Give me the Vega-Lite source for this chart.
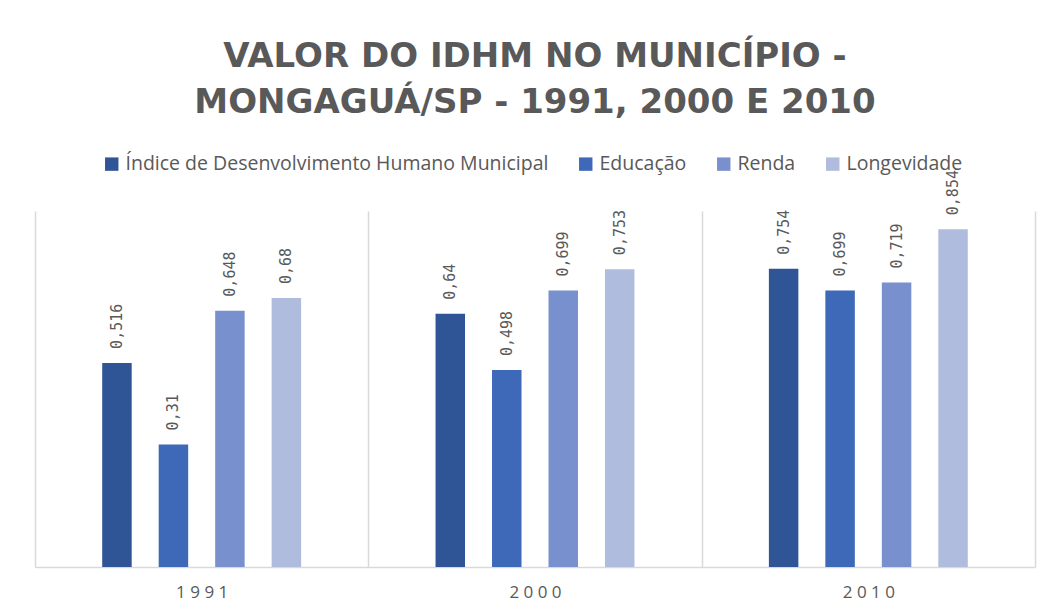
{
  "$schema": "https://vega.github.io/schema/vega-lite/v6.json",
  "autosize": {"type": "none"},
  "width": 1000,
  "height": 356,
  "padding": {"left": 35, "top": 211, "right": 13, "bottom": 47},
  "background": "white",
  "title": {
    "text": ["VALOR DO IDHM NO MUNICÍPIO -", "MONGAGUÁ/SP  - 1991, 2000 E 2010"],
    "anchor": "middle",
    "frame": "group",
    "font": "DejaVu Sans",
    "fontSize": 34,
    "fontWeight": "bold",
    "color": "#595959",
    "lineHeight": 46,
    "offset": 34
  },
  "data": {
    "values": [
      {"ano": "1991", "serie": "Índice de Desenvolvimento Humano Municipal", "valor": 0.516, "rotulo": "0,516"},
      {"ano": "1991", "serie": "Educação", "valor": 0.31, "rotulo": "0,31"},
      {"ano": "1991", "serie": "Renda", "valor": 0.648, "rotulo": "0,648"},
      {"ano": "1991", "serie": "Longevidade", "valor": 0.68, "rotulo": "0,68"},
      {"ano": "2000", "serie": "Índice de Desenvolvimento Humano Municipal", "valor": 0.64, "rotulo": "0,64"},
      {"ano": "2000", "serie": "Educação", "valor": 0.498, "rotulo": "0,498"},
      {"ano": "2000", "serie": "Renda", "valor": 0.699, "rotulo": "0,699"},
      {"ano": "2000", "serie": "Longevidade", "valor": 0.753, "rotulo": "0,753"},
      {"ano": "2010", "serie": "Índice de Desenvolvimento Humano Municipal", "valor": 0.754, "rotulo": "0,754"},
      {"ano": "2010", "serie": "Educação", "valor": 0.699, "rotulo": "0,699"},
      {"ano": "2010", "serie": "Renda", "valor": 0.719, "rotulo": "0,719"},
      {"ano": "2010", "serie": "Longevidade", "valor": 0.854, "rotulo": "0,854"}
    ]
  },
  "encoding": {
    "x": {
      "field": "ano",
      "type": "nominal",
      "title": null,
      "scale": {"paddingInner": 0, "paddingOuter": 0},
      "axis": {
        "tickBand": "extent",
        "grid": true,
        "gridColor": "#d9d9d9",
        "gridWidth": 1.5,
        "ticks": false,
        "domainColor": "#d9d9d9",
        "domainWidth": 1.5,
        "labelAngle": 0,
        "labelFont": "Open Sans",
        "labelFontSize": 17,
        "labelColor": "#595959",
        "labelPadding": 17,
        "labelExpr": "join(split(datum.label, ''), ' ')"
      }
    },
    "xOffset": {
      "field": "serie",
      "type": "nominal",
      "scale": {
        "domain": ["_ini", "Índice de Desenvolvimento Humano Municipal", "Educação", "Renda", "Longevidade", "_fim"],
        "paddingInner": 0.478,
        "paddingOuter": 0.19
      }
    },
    "y": {
      "field": "valor",
      "type": "quantitative",
      "scale": {"domain": [0, 0.9], "nice": false},
      "axis": null
    }
  },
  "layer": [
    {
      "mark": {"type": "bar"},
      "encoding": {
        "color": {
          "field": "serie",
          "type": "nominal",
          "scale": {
            "domain": ["Índice de Desenvolvimento Humano Municipal", "Educação", "Renda", "Longevidade"],
            "range": ["#2f5597", "#3e69b8", "#7890cd", "#b0bcdd"]
          },
          "legend": {
            "title": null,
            "orient": "none",
            "direction": "horizontal",
            "legendX": 67,
            "legendY": -57,
            "symbolType": "square",
            "symbolSize": 180,
            "symbolStrokeWidth": 0,
            "labelFont": "Open Sans",
            "labelFontSize": 19.5,
            "labelColor": "#595959",
            "labelOffset": 4,
            "columnPadding": 27,
            "labelLimit": 500
          }
        }
      }
    },
    {
      "mark": {
        "type": "text",
        "angle": 270,
        "align": "left",
        "baseline": "middle",
        "dx": 14,
        "font": "DejaVu Sans Mono",
        "fontSize": 15,
        "color": "#595959"
      },
      "encoding": {
        "text": {"field": "rotulo"}
      }
    }
  ],
  "config": {
    "view": {"stroke": null}
  }
}
